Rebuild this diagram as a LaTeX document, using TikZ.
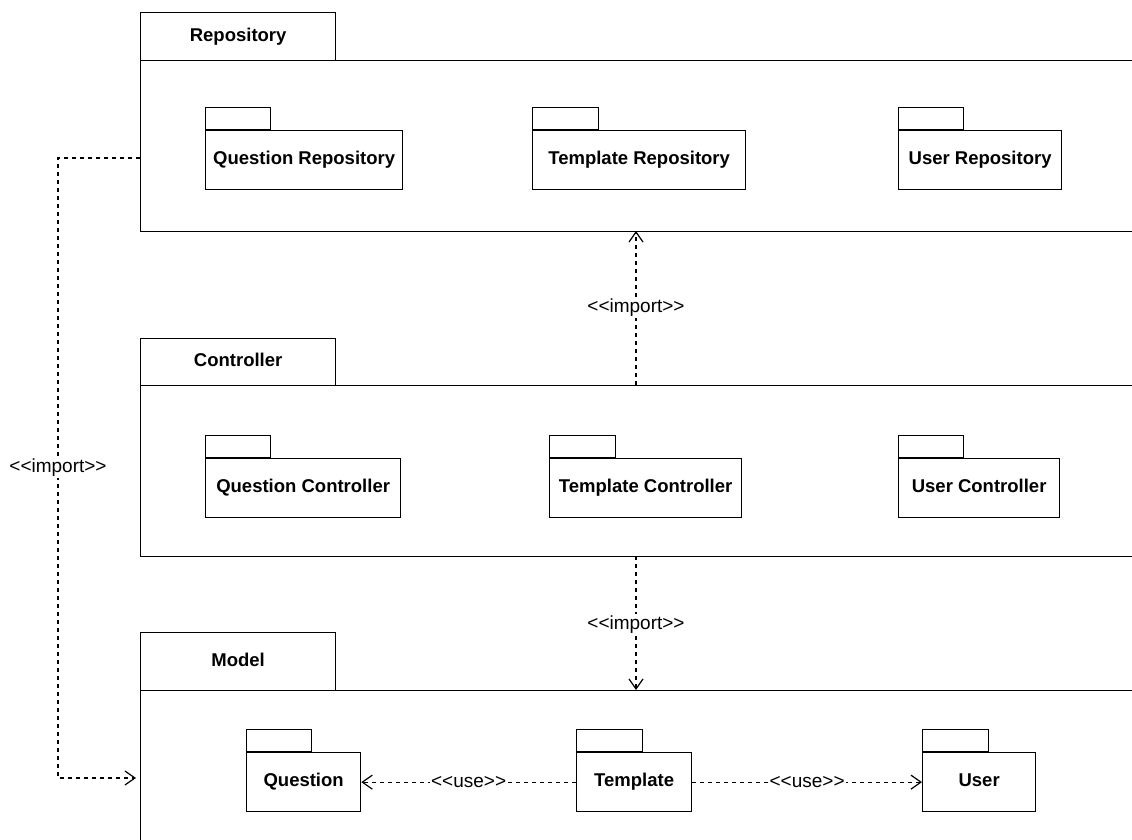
\documentclass[tikz,border=0pt]{standalone}
\usepackage{fontspec}
\setmainfont{Liberation Sans}
\newfontfamily\plainfont{Liberation Sans}
\usetikzlibrary{arrows.meta,positioning}

\tikzset{
  x=1pt, y=-1pt,
  box/.style={draw=black, line width=1.3pt, fill=white, inner sep=0pt, anchor=north west},
  pkgtab/.style={box, font=\fontsize{18.5}{20}\selectfont\bfseries, text height=13.5pt, text depth=4pt},
  pkgbody/.style={box, font=\fontsize{18.5}{20}\selectfont\bfseries, text height=13.5pt, text depth=4pt},
  dep/.style={draw=black, line width=1.2pt, dash pattern=on 4pt off 4pt,
    -{Straight Barb[length=10pt,width=14pt,line width=1.2pt,sep=0pt]}},
  deplabel/.style={fill=white, inner sep=1pt, font=\plainfont\fontsize{19}{20}\selectfont},
}

% small package: body with its tab on top
\newcommand{\smallpkg}[6]{% name, x, y, width, tabwidth, text
  \node[pkgbody, minimum width=#4, minimum height=59] (#1) at (#2,#3) {#6};
  \node[box, minimum width=#5, minimum height=22, anchor=south west] (#1-tab) at (#1.north west) {};
}

\begin{document}
\begin{tikzpicture}
\useasboundingbox (0,0) rectangle (1132,840);
\clip (0,0) rectangle (1132,840);
\fill[white] (0,0) rectangle (1132,840);

% outer packages
\node[pkgtab, minimum width=195, minimum height=48] (repotab) at (140,12) {Repository};
\node[box, minimum width=1040, minimum height=171] (repo) at (140,60) {};

\node[pkgtab, minimum width=195, minimum height=47] (ctrltab) at (140,338) {Controller};
\node[box, minimum width=1040, minimum height=171] (ctrl) at (140,385) {};

\node[pkgtab, minimum width=195, minimum height=58] (modeltab) at (140,632) {Model};
\node[box, minimum width=1040, minimum height=200] (model) at (140,690) {};

% repository contents
\smallpkg{qrepo}{205}{130}{197}{65}{Question Repository}
\smallpkg{trepo}{532}{130}{213}{66}{Template Repository}
\smallpkg{urepo}{898}{130}{163}{65}{User Repository}

% controller contents
\smallpkg{qctrl}{205}{458}{195}{65}{Question Controller}
\smallpkg{tctrl}{549}{458}{192}{66}{Template Controller}
\smallpkg{uctrl}{898}{458}{161}{65}{User Controller}

% model contents
\smallpkg{qmodel}{246}{752}{114}{65}{Question}
\smallpkg{tmodel}{576}{752}{115}{66}{Template}
\smallpkg{umodel}{922}{752}{113}{66}{User}

% import dependencies
\coordinate (ctop) at (636,385);
\coordinate (rbot) at (636,231);
\coordinate (cbot) at (636,556);
\coordinate (mtop) at (636,690);
\draw[dep] (ctop) -- node[deplabel, pos=0.5] {<<import>>} (rbot);
\draw[dep] (cbot) -- node[deplabel, pos=0.51] {<<import>>} (mtop);

\coordinate (rleft) at (140,158);
\coordinate (mleft) at (136,778);
\draw[dep] (rleft) -- (58,158) -- node[deplabel, pos=0.5] {<<import>>} (58,778) -- (mleft);

% use dependencies
\draw[dep] (tmodel.west) -- node[deplabel] {<<use>>} (qmodel.east);
\draw[dep] (tmodel.east) -- node[deplabel] {<<use>>} (umodel.west);
\end{tikzpicture}
\end{document}
